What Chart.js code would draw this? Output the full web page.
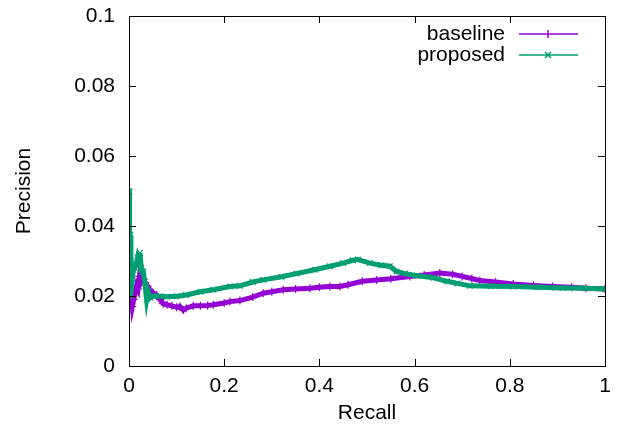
<!DOCTYPE html>
<html>
<head>
<meta charset="utf-8">
<script src="https://cdn.jsdelivr.net/npm/chart.js@4/dist/chart.umd.min.js"></script>
<style>
  html, body { margin: 0; padding: 0; background: #fff; }
  #wrap { width: 618px; height: 434px; }
</style>
</head>
<body>
<div id="wrap"><canvas id="prChart" width="618" height="434"></canvas></div>
<script>
// recall / precision
const baselineRecall = [0, 0.001, 0.002, 0.003, 0.005, 0.007, 0.01, 0.013, 0.016, 0.019, 0.022, 0.026, 0.03, 0.034, 0.039, 0.044, 0.05, 0.058, 0.065, 0.072, 0.08, 0.09, 0.1, 0.107, 0.114, 0.12, 0.135, 0.15, 0.165, 0.177, 0.2, 0.212, 0.233, 0.26, 0.282, 0.3, 0.324, 0.35, 0.38, 0.4, 0.422, 0.443, 0.46, 0.49, 0.52, 0.55, 0.59, 0.62, 0.653, 0.68, 0.7, 0.72, 0.737, 0.77, 0.807, 0.85, 0.89, 0.93, 0.96, 1.0];
const baselinePrecision = [0.025, 0.03, 0.022, 0.018, 0.02, 0.017, 0.019, 0.021, 0.023, 0.022, 0.0256, 0.024, 0.025, 0.0238, 0.0228, 0.0218, 0.021, 0.0203, 0.019, 0.0178, 0.0175, 0.0172, 0.0168, 0.017, 0.016, 0.0165, 0.0172, 0.0172, 0.0173, 0.0175, 0.018, 0.0184, 0.0187, 0.0197, 0.0208, 0.0212, 0.0218, 0.022, 0.0222, 0.0225, 0.0227, 0.0227, 0.0232, 0.0242, 0.0246, 0.0249, 0.0256, 0.026, 0.0266, 0.0262, 0.0256, 0.025, 0.0244, 0.024, 0.0234, 0.023, 0.0227, 0.0225, 0.0222, 0.022];

const proposedRecall = [0, 0.0005, 0.001, 0.002, 0.003, 0.004, 0.005, 0.007, 0.009, 0.012, 0.015, 0.018, 0.021, 0.023, 0.026, 0.03, 0.033, 0.037, 0.04, 0.045, 0.05, 0.065, 0.08, 0.1, 0.12, 0.15, 0.177, 0.212, 0.233, 0.26, 0.282, 0.32, 0.352, 0.39, 0.422, 0.45, 0.47, 0.481, 0.506, 0.53, 0.548, 0.562, 0.58, 0.605, 0.64, 0.668, 0.69, 0.716, 0.76, 0.807, 0.86, 0.912, 0.96, 1.0];
const proposedPrecision = [0.05, 0.02, 0.0497, 0.028, 0.0375, 0.03, 0.027, 0.025, 0.0275, 0.028, 0.029, 0.031, 0.0295, 0.0323, 0.028, 0.027, 0.024, 0.019, 0.0215, 0.0195, 0.02, 0.0199, 0.0198, 0.0199, 0.0203, 0.0212, 0.0218, 0.0227, 0.0229, 0.024, 0.0246, 0.0255, 0.0264, 0.0275, 0.0285, 0.0294, 0.0302, 0.0304, 0.0294, 0.0288, 0.0285, 0.027, 0.0264, 0.0258, 0.0252, 0.0242, 0.0236, 0.0229, 0.0228, 0.0227, 0.0225, 0.0223, 0.0222, 0.022];

const xTicks = [0, 0.2, 0.4, 0.6, 0.8, 1];
const yTicks = [0, 0.02, 0.04, 0.06, 0.08, 0.1];

const purple = "#9400d3";
const green = "#009e73";
const font = "'Liberation Sans', Arial, sans-serif";

function toPoints(xs, ys) {
  return xs.map((x, i) => ({ x: x, y: ys[i] }));
}

// gnuplot-ish frame: full border, inward ticks mirrored on all sides, key at top right
const gnuplotFrame = {
  id: "gnuplotFrame",
  afterDatasetsDraw(chart) {
    const ctx = chart.ctx;
    const a = chart.chartArea;
    const xs = chart.scales.x;
    const ys = chart.scales.y;
    ctx.save();
    ctx.strokeStyle = "#000";
    ctx.lineWidth = 1;
    ctx.beginPath();
    xTicks.forEach((v) => {
      const px = Math.round(xs.getPixelForValue(v)) + 0.5;
      ctx.moveTo(px, a.bottom); ctx.lineTo(px, a.bottom - 7);
      ctx.moveTo(px, a.top); ctx.lineTo(px, a.top + 7);
    });
    yTicks.forEach((v) => {
      const py = Math.round(ys.getPixelForValue(v)) + 0.5;
      ctx.moveTo(a.left, py); ctx.lineTo(a.left + 7, py);
      ctx.moveTo(a.right, py); ctx.lineTo(a.right - 7, py);
    });
    ctx.stroke();
    ctx.strokeRect(Math.round(a.left) + 0.5, Math.round(a.top) + 0.5,
      Math.round(a.right - a.left), Math.round(a.bottom - a.top));

    // key
    ctx.font = "21px " + font;
    ctx.textAlign = "right";
    ctx.textBaseline = "middle";
    ctx.fillStyle = "#000";
    const keys = [
      { label: chart.data.datasets[1].label, color: purple, y: 34, mark: "plus" },
      { label: chart.data.datasets[0].label, color: green, y: 55, mark: "x" },
    ];
    keys.forEach((k) => {
      ctx.fillText(k.label, 505, k.y);
      ctx.strokeStyle = k.color;
      ctx.lineWidth = 1.5;
      ctx.beginPath();
      ctx.moveTo(519, k.y); ctx.lineTo(578, k.y);
      if (k.mark === "plus") {
        ctx.moveTo(548, k.y - 4); ctx.lineTo(548, k.y + 4);
      } else {
        ctx.moveTo(545, k.y - 3); ctx.lineTo(551, k.y + 3);
        ctx.moveTo(551, k.y - 3); ctx.lineTo(545, k.y + 3);
      }
      ctx.stroke();
    });
    ctx.restore();
  },
};

Chart.defaults.color = "#000";
Chart.defaults.font.family = font;
Chart.defaults.font.size = 21;

new Chart(document.getElementById("prChart"), {
  type: "scatter",
  data: {
    datasets: [
      {
        label: "proposed",
        data: toPoints(proposedRecall, proposedPrecision),
        showLine: true,
        borderColor: green,
        backgroundColor: green,
        borderWidth: 5,
        pointStyle: "crossRot",
        pointRadius: 4,
        pointBorderWidth: 1.2,
        order: 1,
      },
      {
        label: "baseline",
        data: toPoints(baselineRecall, baselinePrecision),
        showLine: true,
        borderColor: purple,
        backgroundColor: purple,
        borderWidth: 5,
        pointStyle: "cross",
        pointRadius: 4,
        pointBorderWidth: 1.2,
        order: 2,
      },
    ],
  },
  options: {
    responsive: false,
    animation: false,
    layout: { padding: { top: 16, right: 13, left: 0, bottom: 0 } },
    plugins: {
      legend: { display: false },
      tooltip: { enabled: false },
    },
    scales: {
      x: {
        type: "linear",
        min: 0,
        max: 1,
        afterBuildTicks: (scale) => {
          scale.ticks = xTicks.map((v) => ({ value: v }));
        },
        grid: { display: false, drawTicks: false },
        border: { display: false },
        ticks: {
          padding: 8,
          maxRotation: 0,
          callback: (v) => `${v}`,
        },
        title: {
          display: true,
          text: "Recall",
          padding: { top: 4, bottom: 8 },
        },
        afterFit: (scale) => {
          scale.height = 68;
          scale.paddingLeft = 0;
          scale.paddingRight = 0;
        },
      },
      y: {
        type: "linear",
        min: 0,
        max: 0.1,
        afterBuildTicks: (scale) => {
          scale.ticks = yTicks.map((v) => ({ value: v }));
        },
        grid: { display: false, drawTicks: false },
        border: { display: false },
        ticks: {
          padding: 14,
          callback: (v) => `${v}`,
        },
        title: {
          display: true,
          text: "Precision",
          padding: { top: 12, bottom: 4 },
        },
        afterFit: (scale) => {
          scale.width = 129;
          scale.paddingTop = 0;
          scale.paddingBottom = 0;
        },
      },
    },
  },
  plugins: [gnuplotFrame],
});
</script>
</body>
</html>
